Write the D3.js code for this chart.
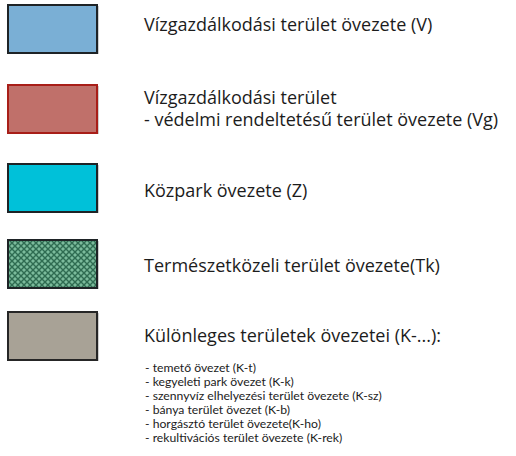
<!DOCTYPE html>
<html>
<head>
<meta charset="utf-8">
<script src="https://cdn.jsdelivr.net/npm/d3@7"></script>
<style>
  html, body { margin: 0; padding: 0; background: #fff; }
  svg { display: block; }
</style>
</head>
<body>
<svg id="chart" width="516" height="456"></svg>
<script>
// legend entries (zone codes, label lines, swatch colours)
const codes = ["V", "Vg", "Z", "Tk", "K"];
const labels = [
  ["Vízgazdálkodási terület övezete (V)"],
  ["Vízgazdálkodási terület", "- védelmi rendeltetésű terület övezete (Vg)"],
  ["Közpark övezete (Z)"],
  ["Természetközeli terület övezete(Tk)"],
  ["Különleges területek övezetei (K-...):"]
];
const fills = ["#7aafd5", "#c0706a", "#00c1d9", "url(#tk-pattern)", "#a8a296"];
const strokes = ["#1e2326", "#a81e18", "#1e2326", "#1e2326", "#262626"];
const subItems = [
  "- temető övezet (K-t)",
  "- kegyeleti park övezet (K-k)",
  "- szennyvíz elhelyezési terület övezete (K-sz)",
  "- bánya terület övezet (K-b)",
  "- horgásztó terület övezete(K-ho)",
  "- rekultivációs terület övezete (K-rek)"
];

// layout
const rowTop = [5, 85, 164, 240, 312];
const labelDy = [26, 19, 33, 32, 30];
const swatchX = 8, swatchW = 89, swatchH = 48;
const textX = 144;
const lineGap = 22;
const font = "'Open Sans', Lato, sans-serif";

const svg = d3.select("#chart");

// Tk hatch: light diamonds on dark green
const defs = svg.append("defs");
const pat = defs.append("pattern")
  .attr("id", "tk-pattern")
  .attr("patternUnits", "userSpaceOnUse")
  .attr("width", 6).attr("height", 6);
pat.append("rect").attr("width", 6).attr("height", 6).attr("fill", "#2f6c52");
const diamond = (cx, cy, r) => `M${cx},${cy - r}L${cx + r},${cy}L${cx},${cy + r}L${cx - r},${cy}Z`;
[[0, 0], [6, 0], [0, 6], [6, 6], [3, 3]].forEach(([cx, cy]) => {
  pat.append("path").attr("d", diamond(cx, cy, 2)).attr("fill", "#7bbb9c");
});

const y = d3.scaleOrdinal().domain(codes).range(rowTop);
const dy = d3.scaleOrdinal().domain(codes).range(labelDy);

const rows = svg.selectAll(".row")
  .data(codes.map((c, i) => ({ code: c, lines: labels[i], fill: fills[i], stroke: strokes[i] })))
  .join("g")
  .attr("class", "row")
  .attr("transform", d => `translate(0,${y(d.code)})`);

// faint shadow on the right edge
rows.append("rect")
  .attr("x", swatchX + 1).attr("y", 1)
  .attr("width", swatchW + 1).attr("height", swatchH)
  .attr("fill", "#cfcfcf");

rows.append("rect")
  .attr("x", swatchX).attr("y", 0)
  .attr("width", swatchW).attr("height", swatchH)
  .attr("fill", d => d.fill)
  .attr("stroke", d => d.stroke)
  .attr("stroke-width", 2);

rows.append("text")
  .attr("x", textX)
  .attr("y", d => dy(d.code))
  .attr("font-family", font)
  .attr("font-size", 18)
  .attr("fill", "#1c1c1c")
  .selectAll("tspan")
  .data(d => d.lines)
  .join("tspan")
  .attr("x", textX)
  .attr("dy", (d, i) => i === 0 ? 0 : lineGap)
  .text(d => d);

// sub-list under K
svg.append("g")
  .attr("font-family", "Lato, 'Open Sans', sans-serif")
  .attr("font-size", 12.2)
  .attr("fill", "#1c1c1c")
  .selectAll("text")
  .data(subItems)
  .join("text")
  .attr("x", textX + 1)
  .attr("y", (d, i) => 372 + i * 14)
  .text(d => d);
</script>
</body>
</html>
